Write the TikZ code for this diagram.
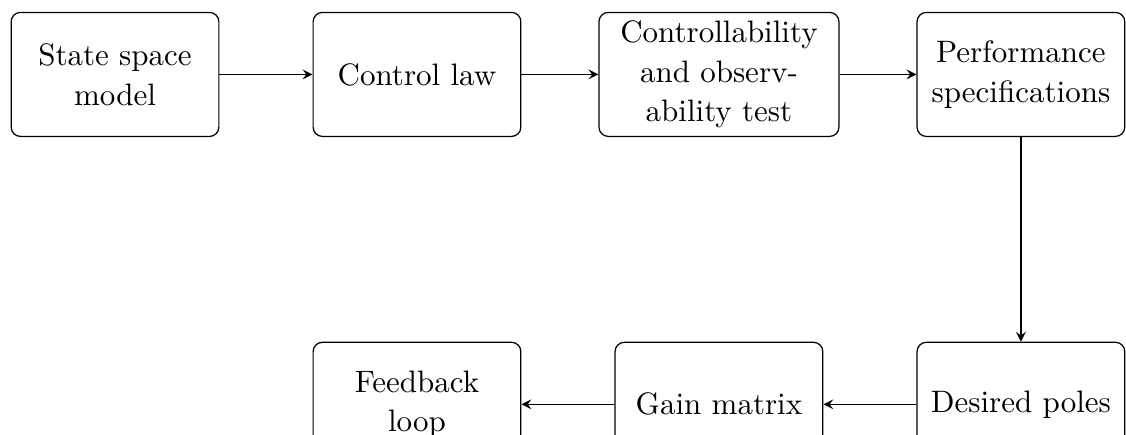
\documentclass[tikz,border=0pt]{standalone}

\begin{document}
\begin{tikzpicture}[
  block/.style={draw, rounded corners=3pt, align=center,
    font=\fontsize{10pt}{12.8pt}\selectfont, inner ysep=1pt,
    minimum width=67pt, minimum height=40pt},
  flow/.style={-stealth}]

  \clip (-37.1pt,-116.3pt) rectangle (326.1pt,24pt);

  % top row
  \node[block] (model) at (0pt,0pt) {State space\\model};
  \node[block] (law) at (97.4pt,0pt) {Control law};
  \node[block, minimum width=77.4pt] (test) at (194.8pt,0pt)
  {Controllability\\and observ-\\ability test};
  \node[block] (specs) at (292.2pt,0pt) {Performance\\specifications};

  % bottom row
  \node[block] (poles) at (292.2pt,-106.4pt) {Desired poles};
  \node[block] (gain) at (194.8pt,-106.4pt) {Gain matrix};
  \node[block] (loop) at (97.4pt,-106.4pt) {Feedback\\loop};

  \draw[flow] (model) -- (law);
  \draw[flow] (law) -- (test);
  \draw[flow] (test) -- (specs);
  \draw[flow] (specs) -- (poles);
  \draw[flow] (poles) -- (gain);
  \draw[flow] (gain) -- (loop);

\end{tikzpicture}
\end{document}
